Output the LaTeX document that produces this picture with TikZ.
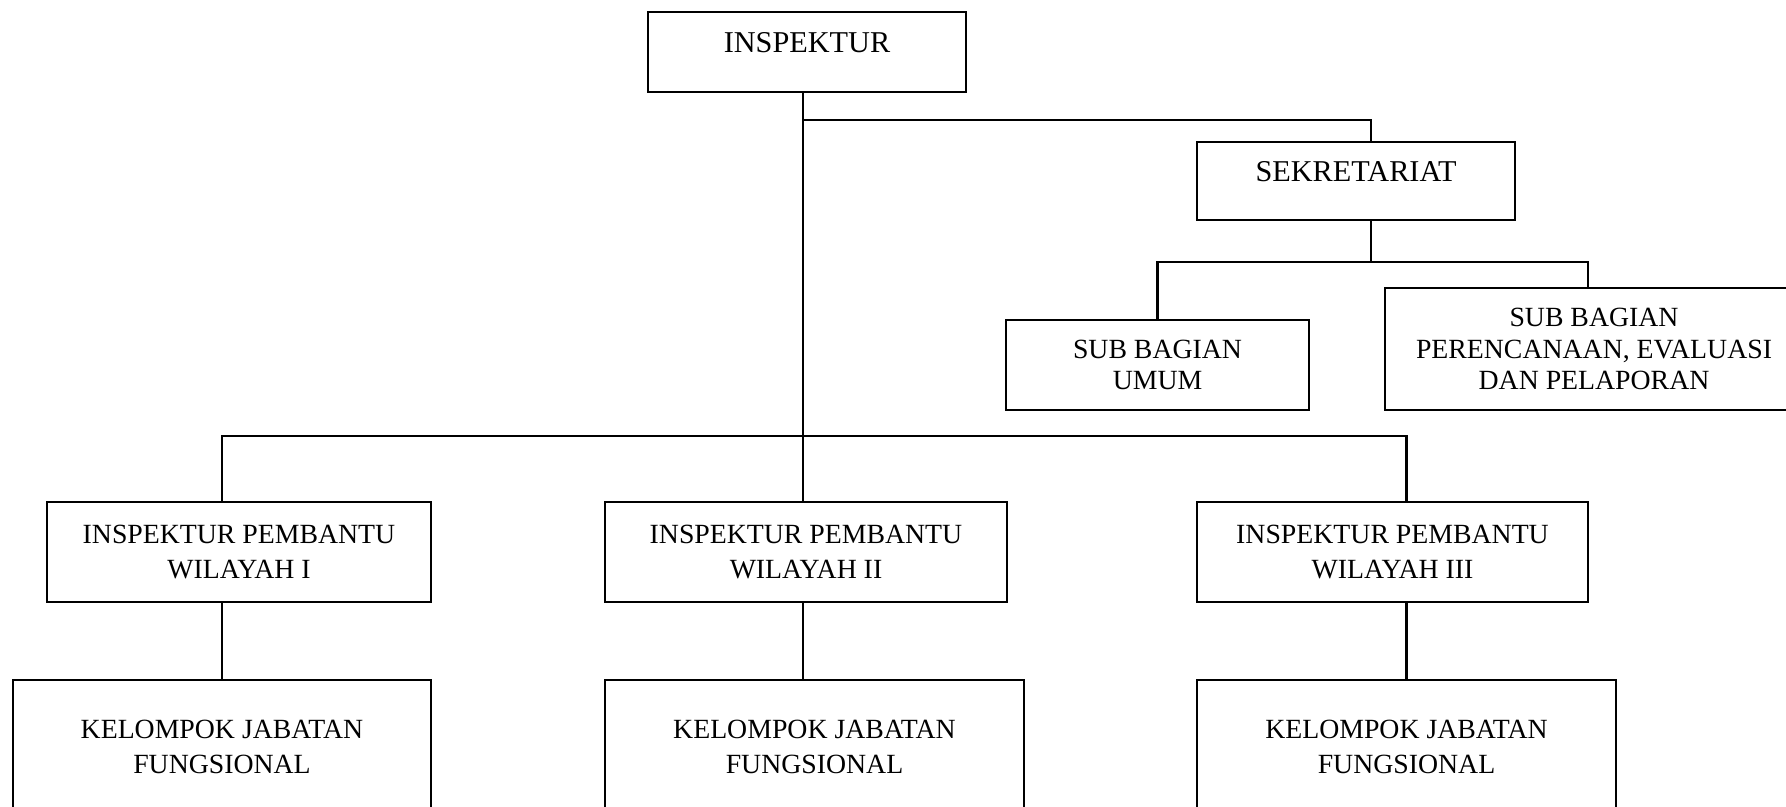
\documentclass[tikz,border=0pt]{standalone}
\usepackage{fontspec}
\setmainfont{Liberation Serif}
\usepackage{tikz}

\begin{document}
\begin{tikzpicture}[x=0.01cm,y=-0.01cm,line width=0.6pt,
  box/.style={draw,align=center,inner sep=0pt,font=\fontsize{7.9}{10}\selectfont},
  subbox/.style={box,font=\fontsize{7.9}{9}\selectfont},
  topbox/.style={box,font=\fontsize{8.6}{10}\selectfont,text height=6pt,text depth=6pt}]
  \useasboundingbox(0,0) rectangle (1786,806);
  \clip(0,0) rectangle (1786,806);
  % kotak
  \node[topbox,minimum width=3.18cm,minimum height=0.80cm](insp) at (807,52){INSPEKTUR};
  \node[topbox,minimum width=3.18cm,minimum height=0.78cm](sek) at (1356,181){SEKRETARIAT};
  \node[subbox,minimum width=3.03cm,minimum height=0.90cm](sbu) at (1157.5,365){SUB BAGIAN\\UMUM};
  \node[subbox,minimum width=4.18cm,minimum height=1.22cm](sbp) at (1594,349){SUB BAGIAN\\PERENCANAAN, EVALUASI\\DAN PELAPORAN};
  \node[box,minimum width=3.84cm,minimum height=1.00cm](ipw1) at (239,552){INSPEKTUR PEMBANTU\\WILAYAH I};
  \node[box,minimum width=4.02cm,minimum height=1.00cm](ipw2) at (806,552){INSPEKTUR PEMBANTU\\WILAYAH II};
  \node[box,minimum width=3.91cm,minimum height=1.00cm](ipw3) at (1392.5,552){INSPEKTUR PEMBANTU\\WILAYAH III};
  \node[box,minimum width=4.18cm,minimum height=1.34cm](kjf1) at (222,747){KELOMPOK JABATAN\\FUNGSIONAL};
  \node[box,minimum width=4.19cm,minimum height=1.34cm](kjf2) at (814.5,747){KELOMPOK JABATAN\\FUNGSIONAL};
  \node[box,minimum width=4.19cm,minimum height=1.34cm](kjf3) at (1406.5,747){KELOMPOK JABATAN\\FUNGSIONAL};
  % garis
  \coordinate(bus) at (803,436);
  \coordinate(sektap) at (1371,120);
  \coordinate(subbus) at (1371,262);
  \coordinate(sbptap) at (1588,262);
  \draw(bus|-insp.south)--(bus|-ipw2.north);
  \draw(bus|-sektap)--(sektap)--(sektap|-sek.north);
  \draw(sektap|-sek.south)--(subbus);
  \draw(sbu.north)--(sbu.north|-subbus)--(sbptap)--(sbptap|-sbp.north);
  \draw(kjf1.north|-ipw1.north)--(kjf1.north|-bus)--(kjf3.north|-bus)--(kjf3.north|-ipw3.north);
  \draw(kjf1.north|-ipw1.south)--(kjf1.north);
  \draw(bus|-ipw2.south)--(bus|-kjf2.north);
  \draw(kjf3.north|-ipw3.south)--(kjf3.north);
\end{tikzpicture}
\end{document}
